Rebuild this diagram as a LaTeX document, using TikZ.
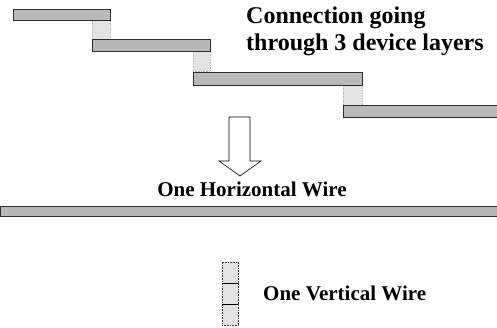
\documentclass[tikz,border=0pt]{standalone}
\usepackage{fontspec}
\setmainfont{Liberation Serif}
\begin{document}
\begin{tikzpicture}[x=1pt,y=-1pt,
  wire/.style={draw=gray!35!black, line width=0.6pt, fill=gray!55, inner sep=0pt, outer sep=0pt, anchor=north west},
  via/.style={draw=gray!55, densely dotted, line width=0.6pt, fill=gray!22, inner sep=0pt, outer sep=0pt, anchor=north west},
  lbl/.style={font=\bfseries\fontsize{21}{26}\selectfont, inner sep=0pt},
  toplbl/.style={font=\bfseries\fontsize{24}{27}\selectfont, inner sep=0pt},
  hollow/.style={draw=black, line width=0.6pt, fill=white}]
\useasboundingbox (0,0) rectangle (497,327);
% staircase
\node[via, minimum width=18pt, minimum height=19pt] (v1) at (92,20) {};
\node[via, minimum width=17pt, minimum height=20pt] (v2) at (193,51) {};
\node[via, minimum width=19pt, minimum height=20pt] (v3) at (343,85) {};
\node[wire, minimum width=97pt, minimum height=11pt] (b1) at (13,9) {};
\node[wire, minimum width=118pt, minimum height=12pt] (b2) at (92,39) {};
\node[wire, minimum width=169pt, minimum height=13pt] (b3) at (193,72) {};
\node[wire, minimum width=154pt, minimum height=12pt] (b4) at (343,105) {};
\node[toplbl, anchor=north west, align=left] (t1) at (246,7) {Connection going\\through 3 device layers};
% arrow
\draw[hollow] (229,117) -- (250,117) -- (250,161) -- (261,161) -- (240,176) -- (219,161) -- (229,161) -- cycle;
% horizontal wire
\node[lbl] (t2) at (252,189) {One Horizontal Wire};
\node[wire, minimum width=497pt, minimum height=10pt] (hw) at (0,206) {};
% vertical wire
\node[via, draw=gray!45!black, minimum width=16pt, minimum height=21pt] (s1) at (222,262) {};
\node[via, draw=gray!45!black, minimum width=16pt, minimum height=21pt] (s2) at (222,283) {};
\node[via, draw=gray!45!black, minimum width=16pt, minimum height=21pt] (s3) at (222,304) {};
\draw[line width=1pt] (s1.south west) -- (s1.south east);
\draw[line width=1pt] (s2.south west) -- (s2.south east);
\node[lbl, anchor=west] (t3) at (263,293) {One Vertical Wire};
\end{tikzpicture}
\end{document}
